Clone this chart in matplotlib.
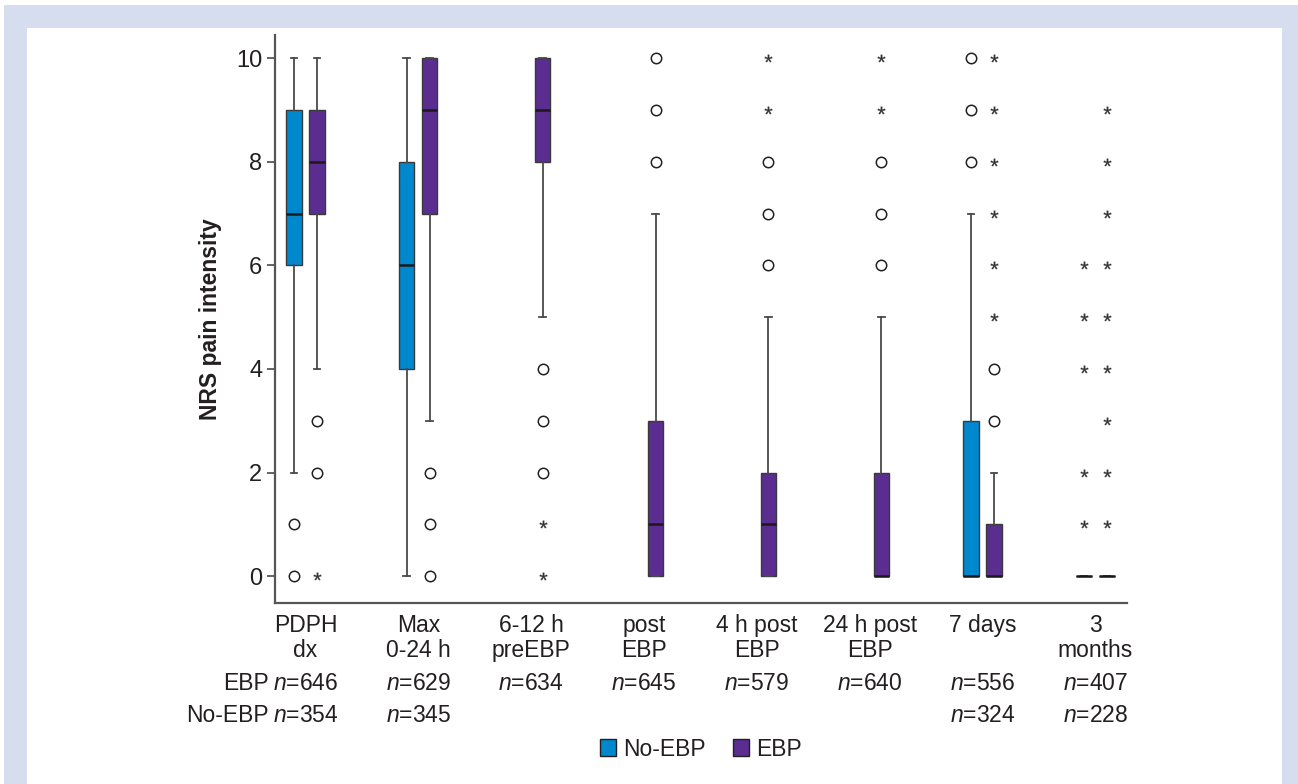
import matplotlib
matplotlib.use('Agg')
import matplotlib.pyplot as plt
from matplotlib.patches import Patch, Rectangle

plt.rcParams['font.family'] = ['Liberation Sans', 'DejaVu Sans']
plt.rcParams['mathtext.fontset'] = 'custom'
plt.rcParams['mathtext.it'] = 'Liberation Sans:italic'
plt.rcParams['mathtext.rm'] = 'Liberation Sans'

# ---- data ----
groups = ["PDPH\ndx", "Max\n0-24 h", "6-12 h\npreEBP", "post\nEBP",
          "4 h post\nEBP", "24 h post\nEBP", "7 days", "3\nmonths"]
n_ebp = [646, 629, 634, 645, 579, 640, 556, 407]
n_noebp = [354, 345, None, None, None, None, 324, 228]

# No-EBP (None = not measured)
no_whislo = [2, 0, None, None, None, None, 0, 0]
no_q1 = [6, 4, None, None, None, None, 0, 0]
no_med = [7, 6, None, None, None, None, 0, 0]
no_q3 = [9, 8, None, None, None, None, 3, 0]
no_whishi = [10, 10, None, None, None, None, 7, 0]
no_circles = [[1, 0], [], [], [], [], [], [8, 9, 10], []]
no_stars = [[], [], [], [], [], [], [], [1, 2, 4, 5, 6]]

# EBP
ebp_whislo = [4, 3, 5, 0, 0, 0, 0, 0]
ebp_q1 = [7, 7, 8, 0, 0, 0, 0, 0]
ebp_med = [8, 9, 9, 1, 1, 0, 0, 0]
ebp_q3 = [9, 10, 10, 3, 2, 2, 1, 0]
ebp_whishi = [10, 10, 10, 7, 5, 5, 2, 0]
ebp_circles = [[3, 2], [2, 1, 0], [4, 3, 2], [8, 9, 10], [6, 7, 8], [6, 7, 8], [3, 4], []]
ebp_stars = [[0], [], [1, 0], [], [9, 10], [9, 10], [5, 6, 7, 8, 9, 10],
             [1, 2, 3, 4, 5, 6, 7, 8, 9]]

c_no = '#0088cf'
c_ebp = '#5b2d90'
ink = '#231f20'
edge = '#3a3a3a'
lav = '#d5ddef'
fs = 16.5

fig = plt.figure(figsize=(12.98, 7.84), dpi=100)
W, H = 1298, 784
# lavender frame
fig.patches.append(Rectangle((4 / W, 0), 1 - 4 / W, 1 - 5 / H, transform=fig.transFigure,
                             facecolor=lav, edgecolor='none', zorder=-10))
fig.patches.append(Rectangle((27 / W, 0), (1282 - 27) / W, 1 - 28 / H, transform=fig.transFigure,
                             facecolor='white', edgecolor='none', zorder=-9))

ax = fig.add_axes([275 / W, 1 - 603 / H, (1127 - 275) / W, (603 - 35) / H])
ax.set_facecolor('none')

off = 0.102
bw = 0.135


def draw(whislo, q1, med, q3, whishi, circles, stars, shift, color):
    stats, pos = [], []
    for i in range(len(groups)):
        if med[i] is None:
            continue
        stats.append(dict(whislo=whislo[i], q1=q1[i], med=med[i], q3=q3[i],
                          whishi=whishi[i], fliers=[]))
        pos.append(i + shift)
    ax.bxp(stats, positions=pos, widths=bw, capwidths=0.06, patch_artist=True,
           showfliers=False,
           boxprops=dict(facecolor=color, edgecolor=edge, linewidth=1.0),
           medianprops=dict(color='#1a1a1a', linewidth=1.8),
           whiskerprops=dict(color='#4a4a4a', linewidth=1.3),
           capprops=dict(color='#4a4a4a', linewidth=1.3))
    for i in range(len(groups)):
        if circles[i]:
            ax.plot([i + shift] * len(circles[i]), circles[i], 'o', ms=7.5,
                    mfc='white', mec=ink, mew=1.1, ls='none', zorder=4)
        if stars[i]:
            ax.plot([i + shift] * len(stars[i]), stars[i], marker=r'$*$', ms=5.5,
                    color='#333333', mew=0.2, ls='none', zorder=4)


draw(no_whislo, no_q1, no_med, no_q3, no_whishi, no_circles, no_stars, -off, c_no)
draw(ebp_whislo, ebp_q1, ebp_med, ebp_q3, ebp_whishi, ebp_circles, ebp_stars, off, c_ebp)

ax.set_xlim(-0.27, 7.28)
ax.set_ylim(-0.52, 10.45)
ax.set_yticks(range(0, 11, 2))
ax.set_xticks(range(len(groups)))
ax.set_xticklabels(groups, fontsize=fs, color=ink, linespacing=1.12)
ax.tick_params(axis='x', length=0, pad=8)
ax.tick_params(axis='y', length=6, width=1.1, color=edge, labelsize=17,
               labelcolor=ink, pad=3)
for s in ('top', 'right'):
    ax.spines[s].set_visible(False)
for s in ('left', 'bottom'):
    ax.spines[s].set_color('#555555')
    ax.spines[s].set_linewidth(1.6)
ax.set_ylabel('NRS pain intensity', fontsize=16.5, fontweight='bold', color=ink, labelpad=10)

# sample size rows
y_ebp = (603 - 683) / 568
y_no = (603 - 715) / 568
ax.text(-0.007, y_ebp, 'EBP', transform=ax.transAxes, ha='right', va='center',
        fontsize=fs, color=ink)
ax.text(-0.007, y_no, 'No-EBP', transform=ax.transAxes, ha='right', va='center',
        fontsize=fs, color=ink)
tr = ax.get_xaxis_transform()
for i in range(len(groups)):
    ax.text(i, y_ebp, '$n$=%d' % n_ebp[i], transform=tr, ha='center', va='center',
            fontsize=fs, color=ink, clip_on=False)
    if n_noebp[i] is not None:
        ax.text(i, y_no, '$n$=%d' % n_noebp[i], transform=tr, ha='center', va='center',
                fontsize=fs, color=ink, clip_on=False)

handles = [Patch(facecolor=c_no, edgecolor=ink, label='No-EBP'),
           Patch(facecolor=c_ebp, edgecolor=ink, label='EBP')]
fig.legend(handles=handles, loc='center', bbox_to_anchor=(701 / W, 1 - 749 / H), ncol=2,
           frameon=False, fontsize=fs, handlelength=0.7, handleheight=0.7,
           handletextpad=0.3, columnspacing=1.2, labelcolor=ink)

fig.savefig('out.png', dpi=100)
